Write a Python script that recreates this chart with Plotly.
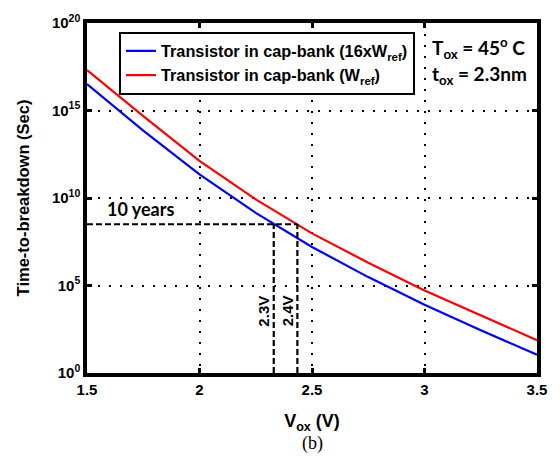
import plotly.graph_objects as go

# ---- data ----
v_ox = [1.5, 1.75, 2.0, 2.25, 2.5, 2.75, 3.0, 3.25, 3.5]
log_tbd_16x = [16.51, 13.85, 11.35, 9.15, 7.20, 5.48, 3.90, 2.44, 1.05]   # blue
log_tbd_1x = [17.31, 14.68, 12.12, 9.92, 7.98, 6.30, 4.72, 3.28, 1.87]    # red
tbd_16x = [10 ** v for v in log_tbd_16x]
tbd_1x = [10 ** v for v in log_tbd_1x]

ten_years_sec = 3.1536e8
v_cross = [2.33, 2.435]
v_cross_labels = ["2.3V", "2.4V"]

x_ticks = [1.5, 2, 2.5, 3, 3.5]
x_tick_text = ["1.5", "2", "2.5", "3", "3.5"]
y_ticks = [1e0, 1e5, 1e10, 1e15, 1e20]
y_tick_text = ["10<sup>0</sup>", "10<sup>5</sup>", "10<sup>10</sup>", "10<sup>15</sup>", "10<sup>20</sup>"]

series_names = ["Transistor in cap-bank (16xW<sub>ref</sub>)", "Transistor in cap-bank (W<sub>ref</sub>)"]

BOLD = dict(family="Liberation Sans, Arial", color="black", weight="bold")

fig = go.Figure()
fig.add_trace(go.Scatter(x=v_ox, y=tbd_16x, mode="lines", name=series_names[0],
                         line=dict(color="#0000ff", width=2.2)))
fig.add_trace(go.Scatter(x=v_ox, y=tbd_1x, mode="lines", name=series_names[1],
                         line=dict(color="#ff0000", width=2.2)))

# 10-year dashed reference lines
dash_line = dict(color="black", width=2.2, dash="6px,3px")
fig.add_shape(type="line", xref="x", yref="y", x0=x_ticks[0], x1=v_cross[1],
              y0=ten_years_sec, y1=ten_years_sec, line=dash_line)
for vc in v_cross:
    fig.add_shape(type="line", xref="x", yref="y", x0=vc, x1=vc,
                  y0=y_ticks[0], y1=ten_years_sec, line=dash_line)

fig.add_annotation(x=1.58, y=9.4, xref="x", yref="y", text="10 years", showarrow=False,
                   xanchor="left", yanchor="middle",
                   font=dict(family="Lato", size=18, color="black", weight="bold"))
for vc, lab in zip(v_cross, v_cross_labels):
    fig.add_annotation(x=vc, y=3.55, xref="x", yref="y", text=lab, showarrow=False,
                       textangle=-90, xshift=-10,
                       font=dict(BOLD, size=15))

fig.add_annotation(x=3.0, y=1.0, xref="x", yref="paper", yshift=-25, text="T<sub>ox</sub> = 45<sup>o</sup> C",
                   showarrow=False, xanchor="left", yanchor="middle", xshift=5,
                   font=dict(family="Lato", size=19, color="black", weight="bold"))
fig.add_annotation(x=3.0, y=1.0, xref="x", yref="paper", yshift=-52, text="t<sub>ox</sub> = 2.3nm",
                   showarrow=False, xanchor="left", yanchor="middle", xshift=5,
                   font=dict(family="Lato", size=19, color="black", weight="bold"))

fig.add_annotation(x=0.5, y=0, xref="paper", yref="paper", yshift=-70, text="(b)",
                   showarrow=False, yanchor="middle",
                   font=dict(family="Liberation Serif, Times New Roman", size=18, color="black"))

axis_common = dict(showline=True, linewidth=3.5, linecolor="black", mirror="ticks",
                   ticks="inside", ticklen=5, tickwidth=3, tickcolor="black",
                   showgrid=True, gridcolor="black", gridwidth=1.5, griddash="2px,9px",
                   zeroline=False, tickfont=dict(BOLD, size=15))

fig.update_xaxes(range=[1.5, 3.5], tickvals=x_ticks, ticktext=x_tick_text,
                 title=dict(text="V<sub>ox</sub> (V)", font=dict(BOLD, size=18), standoff=19),
                 **axis_common)
fig.update_yaxes(type="log", range=[0, 20], tickvals=y_ticks, ticktext=y_tick_text,
                 title=dict(text="Time-to-breakdown (Sec)", font=dict(BOLD, size=16.5), standoff=19),
                 **axis_common)

fig.update_layout(
    width=560, height=456,
    margin=dict(l=87, r=23, t=23, b=83),
    paper_bgcolor="white", plot_bgcolor="white",
    showlegend=True,
    legend=dict(x=0.071, y=0.975, xanchor="left", yanchor="top",
                bgcolor="white", bordercolor="black", borderwidth=2,
                font=dict(BOLD, size=16.3), tracegroupgap=0, itemwidth=30),
)

fig.write_html("out.html", config={"displayModeBar": False},
               post_script="document.body.style.margin='0px';")
